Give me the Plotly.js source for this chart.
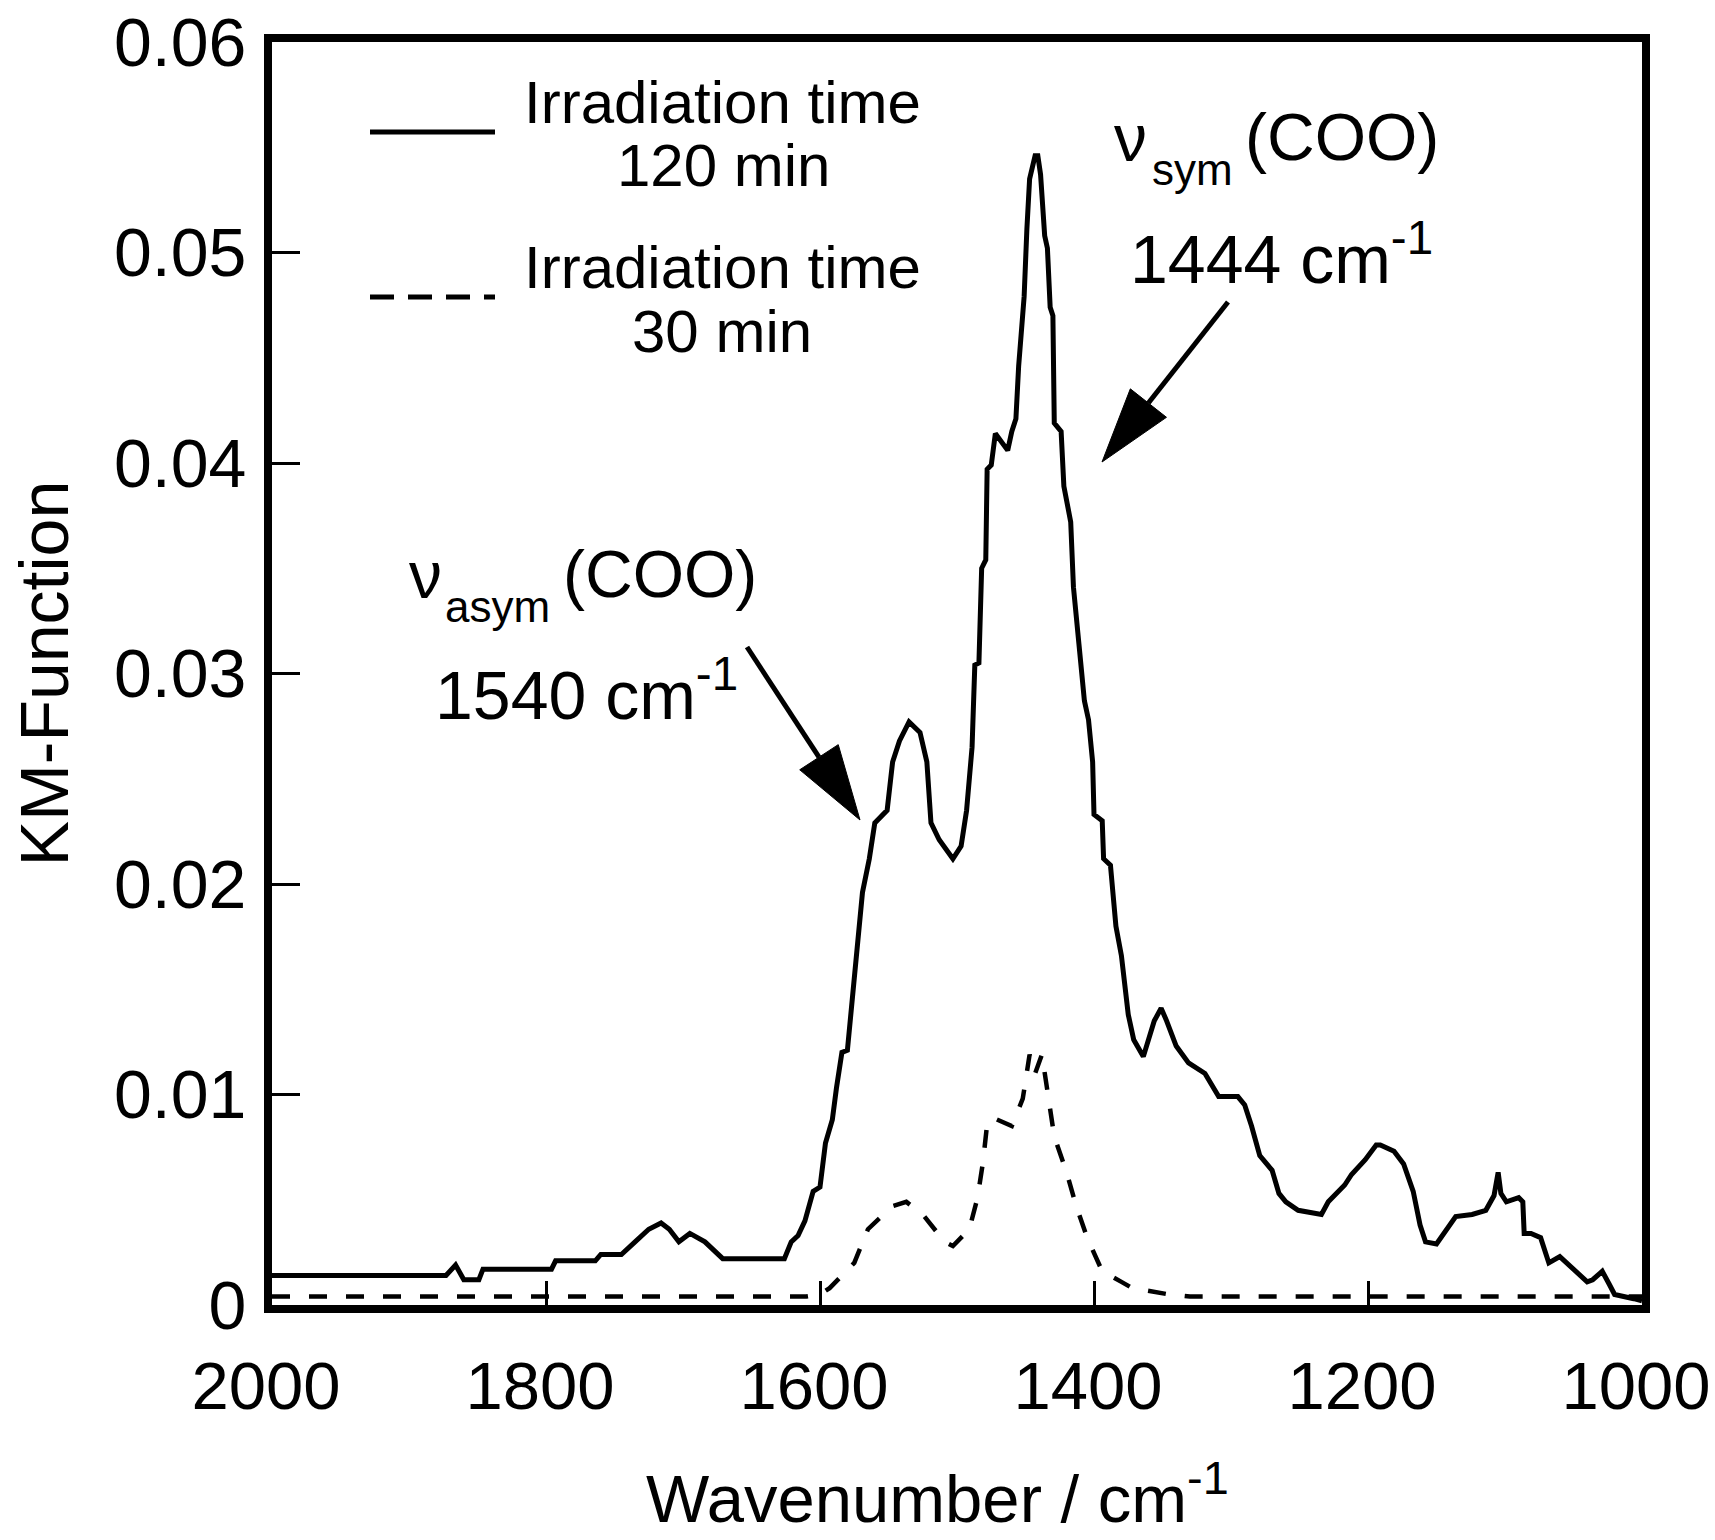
<!DOCTYPE html>
<html>
<head>
<meta charset="utf-8">
<script src="https://cdn.plot.ly/plotly-3.0.1.min.js"></script>
<style>html,body{margin:0;padding:0;background:#fff;}#chart{width:1715px;height:1540px;}</style>
</head>
<body>
<div id="chart"></div>
<script>
// ---- data ----
const wn120 = [2000,1873,1866,1860,1849,1846,1822,1796,1793,1764,1760,1745,1735,1725,1716,1710,1703,1695,1684,1671,1626,1621,1616,1611,1605,1600,1596,1591,1588,1584,1580,1577,1572,1569,1564,1560,1551,1547,1542,1535,1527,1522,1519,1513,1503,1497,1493,1489,1487,1484,1482,1479,1478,1475,1472,1468,1463,1460,1457,1455,1451,1449,1447,1443,1441,1439,1436,1434,1432,1430,1429,1424,1422,1417,1415,1411,1407,1404,1401,1400,1394,1393,1388,1384,1380,1375,1371,1364,1356,1351,1347,1340,1331,1319,1309,1295,1290,1285,1279,1270,1265,1260,1251,1234,1229,1217,1212,1202,1194,1191,1181,1174,1167,1162,1158,1150,1143,1136,1124,1114,1108,1105,1103,1099,1090,1087,1086,1081,1074,1068,1060,1050,1040,1036,1029,1024,1020,1006,1000];
const km120 = [0.0014,0.0014,0.0019,0.0012,0.0012,0.0017,0.0017,0.0017,0.0021,0.0021,0.0024,0.0024,0.0030,0.0036,0.0039,0.0036,0.0030,0.0034,0.0030,0.0022,0.0022,0.0030,0.0033,0.0040,0.0054,0.0056,0.0077,0.0088,0.0103,0.0120,0.0121,0.0142,0.0171,0.0196,0.0212,0.0229,0.0235,0.0258,0.0268,0.0277,0.0272,0.0258,0.0229,0.0221,0.0212,0.0218,0.0235,0.0265,0.0304,0.0305,0.0350,0.0354,0.0397,0.0399,0.0414,0.0410,0.0406,0.0415,0.0421,0.0446,0.0479,0.0511,0.0535,0.0546,0.0546,0.0537,0.0508,0.0502,0.0474,0.0470,0.0419,0.0415,0.0389,0.0372,0.0341,0.0314,0.0287,0.0278,0.0258,0.0233,0.0230,0.0212,0.0209,0.0180,0.0166,0.0138,0.0126,0.0118,0.0135,0.0141,0.0135,0.0123,0.0115,0.0110,0.0099,0.0099,0.0095,0.0085,0.0071,0.0064,0.0053,0.0049,0.0045,0.0043,0.0049,0.0057,0.0062,0.0069,0.0076,0.0076,0.0073,0.0067,0.0054,0.0038,0.0030,0.0029,0.0036,0.0042,0.0043,0.0045,0.0052,0.0063,0.0053,0.0049,0.0051,0.0049,0.0034,0.0034,0.0032,0.0020,0.0023,0.0017,0.0011,0.0012,0.0016,0.0010,0.0005,0.0003,0.0002];

const wn30 = [2000,1610,1600,1593,1575,1565,1547,1537,1525,1509,1503,1491,1485,1481,1478,1474,1460,1452,1447,1443,1438,1433,1429,1420,1413,1405,1394,1380,1372,1345,1330,1000];
const km30 = [0.0004,0.0004,0.0005,0.0008,0.0020,0.0036,0.0047,0.0049,0.0043,0.0030,0.0028,0.0036,0.0051,0.0068,0.0086,0.0089,0.0085,0.0098,0.0119,0.0110,0.0119,0.0098,0.0080,0.0063,0.0047,0.0032,0.0016,0.0011,0.0008,0.0005,0.0004,0.0004];

const xTicks = [2000,1800,1600,1400,1200,1000];
const yTickVals = [0,0.01,0.02,0.03,0.04,0.05,0.06];
const yTickText = ['0','0.01','0.02','0.03','0.04','0.05','0.06'];

const legendNames = ['Irradiation time', '120 min', 'Irradiation time', '30 min'];
const xTitle = 'Wavenumber / cm<sup>-1</sup>';
const yTitle = 'KM-Function';

// ---- layout geometry (pixels) ----
const W = 1715, H = 1540;
const M = {l:272, r:73, t:42, b:235};
const PW = W - M.l - M.r, PH = H - M.t - M.b;
const px = x => (x - M.l) / PW;
const py = y => (M.t + PH - y) / PH;
const FONT = 'Liberation Sans, Arial, sans-serif';

function textAnn(text, x, y, size, xanchor) {
  return {text: text, xref:'paper', yref:'paper', x: px(x), y: py(y),
    xanchor: xanchor || 'center', yanchor:'middle', showarrow:false,
    font:{family:FONT, size:size, color:'#000'}};
}
function arrowShapes(tail, tip, headLen, halfW) {
  const dx = tip[0]-tail[0], dy = tip[1]-tail[1];
  const L = Math.hypot(dx, dy), ux = dx/L, uy = dy/L;
  const bx = tip[0]-headLen*ux, by = tip[1]-headLen*uy;
  const nx = -uy, ny = ux;
  const c1 = [bx+halfW*nx, by+halfW*ny], c2 = [bx-halfW*nx, by-halfW*ny];
  const p = (pt) => px(pt[0]) + ',' + py(pt[1]);
  return [
    {type:'line', xref:'paper', yref:'paper', x0:px(tail[0]), y0:py(tail[1]), x1:px(bx), y1:py(by), line:{color:'#000', width:5}},
    {type:'path', xref:'paper', yref:'paper', path:'M' + p(tip) + ' L' + p(c1) + ' L' + p(c2) + ' Z', fillcolor:'#000', line:{color:'#000', width:1}}
  ];
}

const traces = [
  {x: wn120, y: km120, type:'scatter', mode:'lines', name:'120 min', line:{color:'#000', width:5}},
  {x: wn30, y: km30, type:'scatter', mode:'lines', name:'30 min', line:{color:'#000', width:4.5, dash:'18px,19px'}}
];

const shapes = [
  {type:'line', xref:'paper', yref:'paper', x0:px(370), y0:py(132), x1:px(495), y1:py(132), line:{color:'#000', width:5}},
  {type:'line', xref:'paper', yref:'paper', x0:px(370), y0:py(297), x1:px(495), y1:py(297), line:{color:'#000', width:5, dash:'24px,14px'}}
].concat(arrowShapes([1228,302],[1102,462],75,23), arrowShapes([747,647],[860,820],75,23));

const annotations = [
  textAnn(legendNames[0], 722, 103, 60),
  textAnn(legendNames[1], 723, 165, 60),
  textAnn(legendNames[2], 722, 267, 60),
  textAnn(legendNames[3], 722, 331, 60),
  // symmetric stretch
  textAnn('ν', 1112, 161 - 0.3465*66, 66, 'left'),
  textAnn('sym', 1150, 185 - 0.3465*44, 44, 'left'),
  textAnn('(COO)', 1243, 160 - 0.3465*66, 66, 'left'),
  textAnn('1444 cm<sup>-1</sup>', 1281, 254, 68),
  // asymmetric stretch
  textAnn('ν', 407, 598 - 0.3465*66, 66, 'left'),
  textAnn('asym', 443, 622 - 0.3465*44, 44, 'left'),
  textAnn('(COO)', 561, 597 - 0.3465*66, 66, 'left'),
  textAnn('1540 cm<sup>-1</sup>', 586, 690, 68),
  // x axis title
  textAnn(xTitle, 937, 1494, 67)
];

const layout = {
  width: W, height: H,
  margin: M,
  paper_bgcolor:'#fff', plot_bgcolor:'#fff',
  showlegend:false,
  font:{family:FONT, color:'#000'},
  xaxis:{
    range:[2000,1000], tickvals:xTicks, ticks:'inside', ticklen:24, tickwidth:3, tickcolor:'#000',
    showline:true, linewidth:8, linecolor:'#000', mirror:true, showgrid:false, zeroline:false,
    tickfont:{family:FONT, size:67, color:'#000'}, ticklabelstandoff: 16, ticklabelshift: 6, ticklabeloverflow:'allow'
  },
  yaxis:{
    range:[0,0.06], tickvals:yTickVals, ticktext:yTickText, ticks:'inside', ticklen:28, tickwidth:3, tickcolor:'#000',
    showline:true, linewidth:8, linecolor:'#000', mirror:true, showgrid:false, zeroline:false,
    tickfont:{family:FONT, size:68, color:'#000'}, ticklabelstandoff: 4, ticklabeloverflow:'allow',
    title:{text:yTitle, font:{family:FONT, size:68, color:'#000'}, standoff:26}
  },
  shapes: shapes,
  annotations: annotations
};

Plotly.newPlot('chart', traces, layout, {staticPlot:true, displayModeBar:false});
</script>
</body>
</html>
